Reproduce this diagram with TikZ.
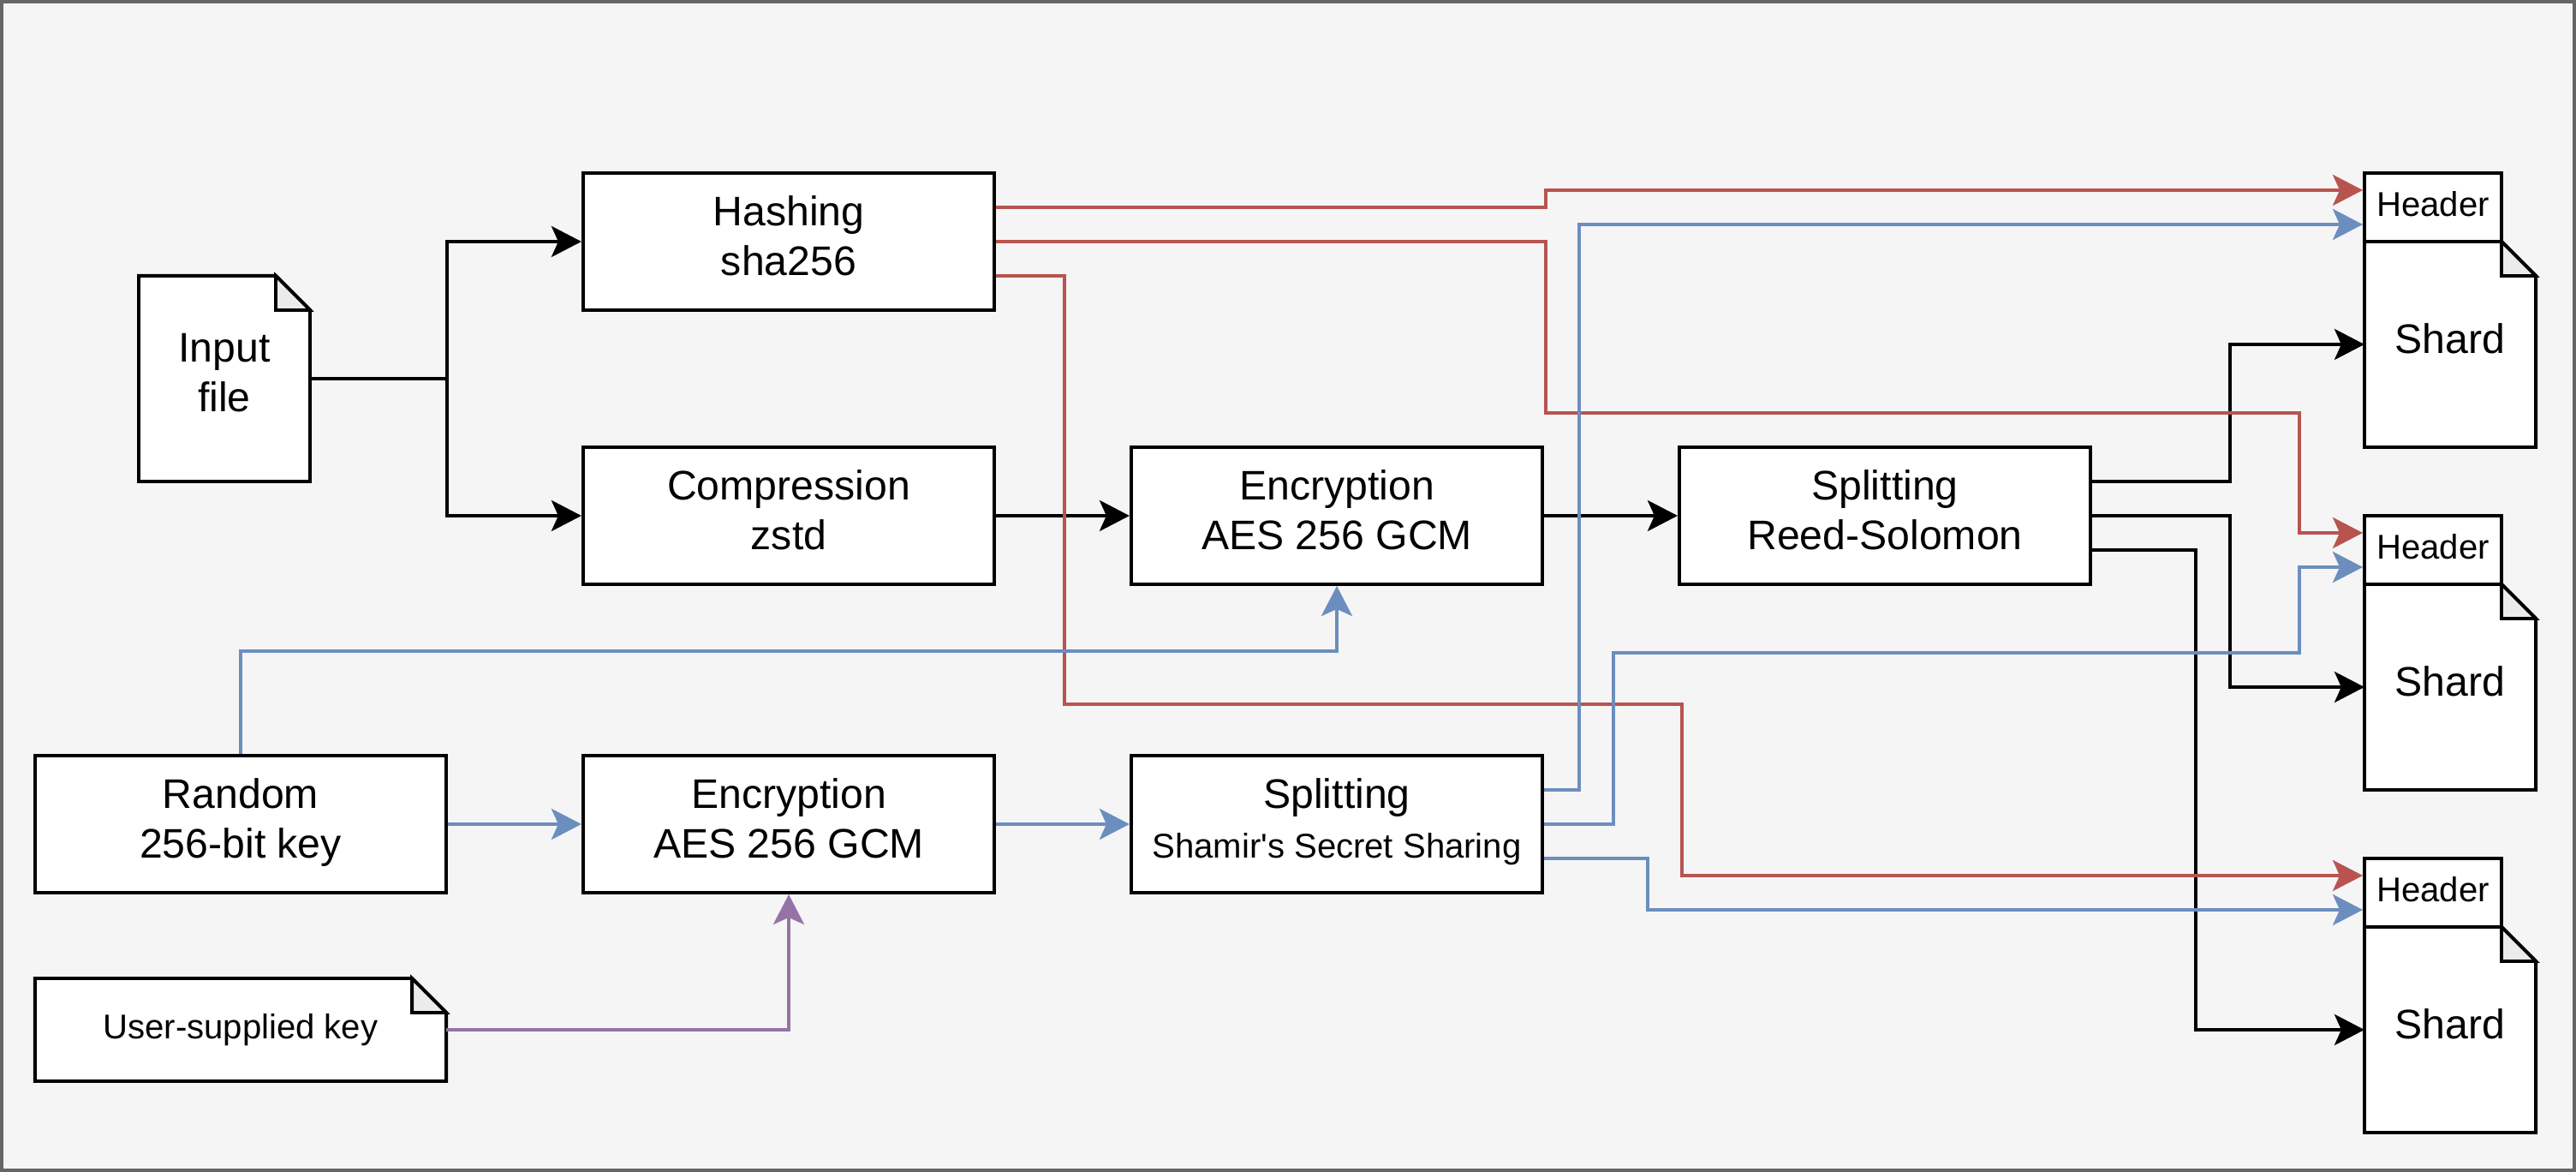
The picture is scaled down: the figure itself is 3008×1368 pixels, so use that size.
\documentclass[tikz,border=0pt]{standalone}
\usepackage{fontspec}
\setmainfont{Liberation Sans}
\usetikzlibrary{arrows.meta}
\definecolor{redln}{HTML}{B85450}
\definecolor{blueln}{HTML}{6C8EBF}
\definecolor{purpln}{HTML}{9673A6}
\definecolor{pagebg}{HTML}{F5F5F5}
\definecolor{pageframe}{HTML}{666666}
\definecolor{foldgray}{HTML}{EBEBEB}
\pgfdeclarelayer{back}
\pgfsetlayers{back,main}
\newcommand\bigtxt{\fontsize{13.7pt}{16.4pt}\selectfont}
\newcommand\smalltxt{\fontsize{11.4pt}{13.7pt}\selectfont}

\begin{document}
\begin{tikzpicture}[x=0.01cm, y=-0.01cm,
  procbox/.style={draw, fill=white, line width=1.1pt, minimum width=4.8cm, minimum height=1.6cm, text depth=3.8pt, align=center, font=\bigtxt},
  docnode/.style={minimum width=2cm, minimum height=2.4cm, inner sep=0pt, outer sep=0pt, text depth=4.2pt, align=center, font=\bigtxt},
  hdrbox/.style={draw, fill=white, line width=1.1pt, minimum width=1.6cm, minimum height=0.8cm, inner sep=0pt, text depth=2.2pt, font=\smalltxt},
  docline/.style={draw=black, fill=white, line width=1.1pt},
  foldline/.style={draw=black, fill=foldgray, line width=1.1pt},
  arrowtip/.style={-{Stealth[length=0.35cm, width=0.36cm, inset=0.08cm]}},
  blkarr/.style={arrowtip, draw=black, line width=1.1pt},
  redarr/.style={arrowtip, draw=redln, line width=1.1pt},
  bluearr/.style={arrowtip, draw=blueln, line width=1.1pt},
  purparr/.style={arrowtip, draw=purpln, line width=1.1pt}]
\useasboundingbox (0,0) rectangle (3008,1368);
\begin{pgfonlayer}{back}
\fill[pagebg] (0,0) rectangle (3008,1368);
\draw[pageframe, line width=1.1pt] (2,2) rectangle (3006,1366);
\end{pgfonlayer}

\node[docnode] (infile) at (262,442) {Input\\file};
\node[procbox] (hash) at (921,282) {Hashing\\sha256};
\node[procbox] (comp) at (921,602) {Compression\\zstd};
\node[procbox] (enc1) at (1561,602) {Encryption\\AES 256 GCM};
\node[procbox] (rs) at (2201,602) {Splitting\\Reed-Solomon};
\node[procbox] (rkey) at (281,962) {Random\\256-bit key};
\node[procbox] (enc2) at (921,962) {Encryption\\AES 256 GCM};
\node[procbox] (shamir) at (1561,962) {Splitting\\{\smalltxt Shamir\textquotesingle s Secret Sharing}};
\node[docnode, minimum width=4.8cm, minimum height=1.2cm, text depth=2.4pt, font=\smalltxt] (ukey) at (281,1202) {User-supplied key};
\foreach \i/\y in {1/402, 2/802, 3/1202} {
  \node[docnode] (shard\i) at (2861,\y) {Shard};
  \node[hdrbox] (hdr\i) at (2841,\y-160) {Header};
}

\begin{pgfonlayer}{back}
\foreach \n in {infile,ukey,shard1,shard2,shard3} {
  \filldraw[docline] (\n.south west) -- (\n.north west) -- ([xshift=-4mm]\n.north east) -- ([yshift=-4mm]\n.north east) -- (\n.south east) -- cycle;
  \filldraw[foldline] ([xshift=-4mm]\n.north east) -- ([xshift=-4mm,yshift=-4mm]\n.north east) -- ([yshift=-4mm]\n.north east) -- cycle;
}
\end{pgfonlayer}

\draw[blkarr] (infile.east) -- ++(160,0) |- (hash.west);
\draw[blkarr] (infile.east) -- ++(160,0) |- (comp.west);
\draw[blkarr] (comp.east) -- (enc1.west);
\draw[blkarr] (enc1.east) -- (rs.west);
\draw[blkarr] ([yshift=4mm]rs.east) -- ++(161,0) |- (shard1.west);
\draw[blkarr] (rs.east) -- ++(161,0) |- (shard2.west);
\draw[blkarr] ([yshift=-4mm]rs.east) -- ++(121,0) |- (shard3.west);
\draw[redarr] ([yshift=4mm]hash.east) -- ++(642,0) |- ([yshift=2mm]hdr1.west);
\draw[redarr] (hash.east) -- ++(642,0) -- ++(0,200) -- ++(880,0) |- ([yshift=2mm]hdr2.west);
\draw[redarr] ([yshift=-4mm]hash.east) -- ++(80,0) -- ++(0,500) -- ++(721,0) |- ([yshift=2mm]hdr3.west);
\draw[bluearr] (rkey.north) -- ++(0,-120) -| (enc1.south);
\draw[bluearr] (rkey.east) -- (enc2.west);
\draw[bluearr] (enc2.east) -- (shamir.west);
\draw[bluearr] ([yshift=4mm]shamir.east) -- ++(41,0) |- ([yshift=-2mm]hdr1.west);
\draw[bluearr] (shamir.east) -- ++(81,0) -- ++(0,-200) -- ++(801,0) |- ([yshift=-2mm]hdr2.west);
\draw[bluearr] ([yshift=-4mm]shamir.east) -- ++(121,0) |- ([yshift=-2mm]hdr3.west);
\draw[purparr] (ukey.east) -| (enc2.south);
\end{tikzpicture}
\end{document}
